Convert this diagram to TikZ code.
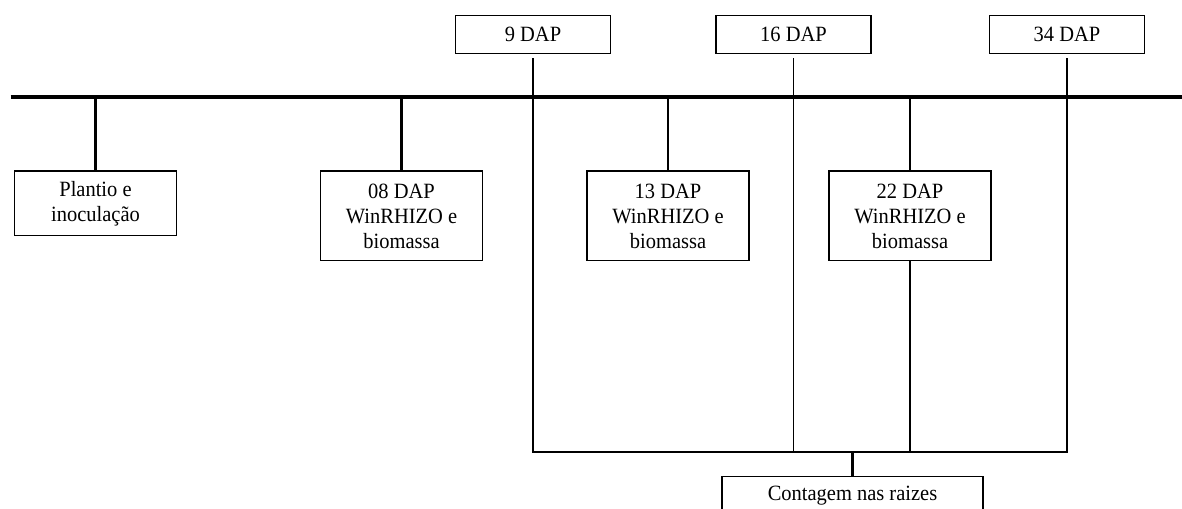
\documentclass[tikz,border=0pt]{standalone}
\usepackage{fontspec}
\setmainfont[FakeStretch=0.94]{Liberation Serif}
\usetikzlibrary{positioning}

\tikzset{
  dapbox/.style={draw, line width=0.85pt, minimum width=3.1cm, minimum height=0.76cm,
    inner sep=0pt, font=\fontsize{12.4}{14.2}\selectfont},
  evbox/.style={draw, line width=0.85pt, minimum width=3.24cm, align=center,
    inner sep=0pt, anchor=north, font=\fontsize{12.4}{14.2}\selectfont},
  stem/.style={line width=1.3pt},
  countline/.style={line width=0.8pt}
}

\begin{document}
\begin{tikzpicture}[x=0.02cm, y=-0.02cm]
  \useasboundingbox (0,0) rectangle (1182,509);
  % timeline
  \draw[line width=2.4pt] (10.7,97.3) coordinate (tl0) -- (1182,97.3) coordinate (tl1);

  % events below the line
  \node[evbox, minimum height=1.29cm] (plantio) at (95.5,170.5) {Plantio e\\inoculação};
  \node[evbox, minimum height=1.79cm] (e08) at (401.5,170.5) {08 DAP\\WinRHIZO e\\biomassa};
  \node[evbox, minimum height=1.79cm] (e13) at (668,170.5) {13 DAP\\WinRHIZO e\\biomassa};
  \node[evbox, minimum height=1.79cm] (e22) at (910,170.5) {22 DAP\\WinRHIZO e\\biomassa};
  \foreach \n in {plantio,e08,e13,e22}
    \draw[stem] (\n.north) -- (\n.north |- tl0);

  % counting dates above the line
  \node[dapbox] (d9) at (533,34.7) {9 DAP};
  \node[dapbox] (d16) at (793.5,34.7) {16 DAP};
  \node[dapbox] (d34) at (1067,34.7) {34 DAP};
  \node[dapbox, anchor=north, minimum width=5.22cm] (cont) at (852.5,476) {Contagem nas raizes};

  \coordinate (join) at (852.5,452);
  \draw[countline, shorten <=2.2pt, shorten >=2.2pt] (d9.south) -- (d9.south |- join)
    -- (d34.south |- join) -- (d34.south);
  \draw[countline, shorten <=2.2pt] (d16.south) -- (d16.south |- join);
  \draw[countline] (e22.south) -- (e22.south |- join);
  \draw[stem] (join) -- (cont.north);
\end{tikzpicture}
\end{document}
